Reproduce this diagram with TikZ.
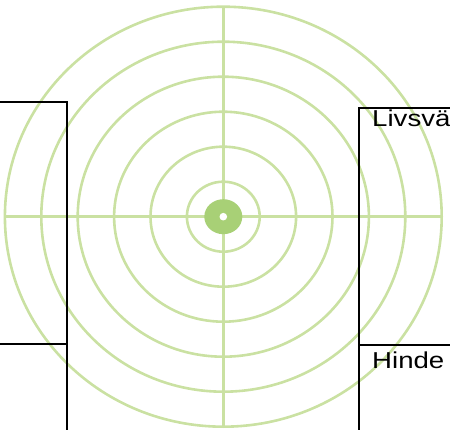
\documentclass[tikz,border=0pt]{standalone}
\usepackage{fontspec}
\setmainfont{Liberation Sans}
\usetikzlibrary{positioning}
\definecolor{ringgreen}{RGB}{202,225,162}
\definecolor{dotgreen}{RGB}{168,208,118}

\begin{document}
\begin{tikzpicture}[x=1pt,y=1pt,
  ring/.style={draw=ringgreen, line width=2.6pt},
  frame/.style={draw, line width=2pt, anchor=north west, inner sep=0pt},
  lbl/.style={font=\fontsize{23}{27}\selectfont, inner sep=0pt, anchor=base west,
    xscale=1.2, transform shape}]
\useasboundingbox (0,0) rectangle (450,429);
% target
\coordinate (c) at (223.3,212.3);
\coordinate (top) at (223.3,422.3); \coordinate (bot) at (223.3,2.3);
\coordinate (lft) at (5,212.3); \coordinate (rgt) at (441.6,212.3);
\foreach \k in {1,...,6}{
  \draw[ring] (c) ellipse ({36.4*\k} and {35*\k});}
\draw[ring] (top) -- (bot);
\draw[ring] (lft) -- (rgt);
\fill[dotgreen] (c) ellipse (19 and 17.5);
\fill[white] (c) circle (3.8);
% boxes
\node[frame, minimum width=115.7pt, minimum height=242.6pt] (goalbox) at (-50,328.3) {};
\node[frame, minimum width=115.7pt, minimum height=120pt] (stepbox) at (-50,85.7) {};
\node[frame, minimum width=150pt, minimum height=237.6pt] (valbox) at (358.3,322.3) {};
\node[frame, minimum width=150pt, minimum height=120pt] (hindbox) at (358.3,84.7) {};
\node[lbl] (valtxt) at (372,302.3) {Livsvä};
\node[lbl] (hindtxt) at (372,60.7) {Hinde};
\end{tikzpicture}
\end{document}
